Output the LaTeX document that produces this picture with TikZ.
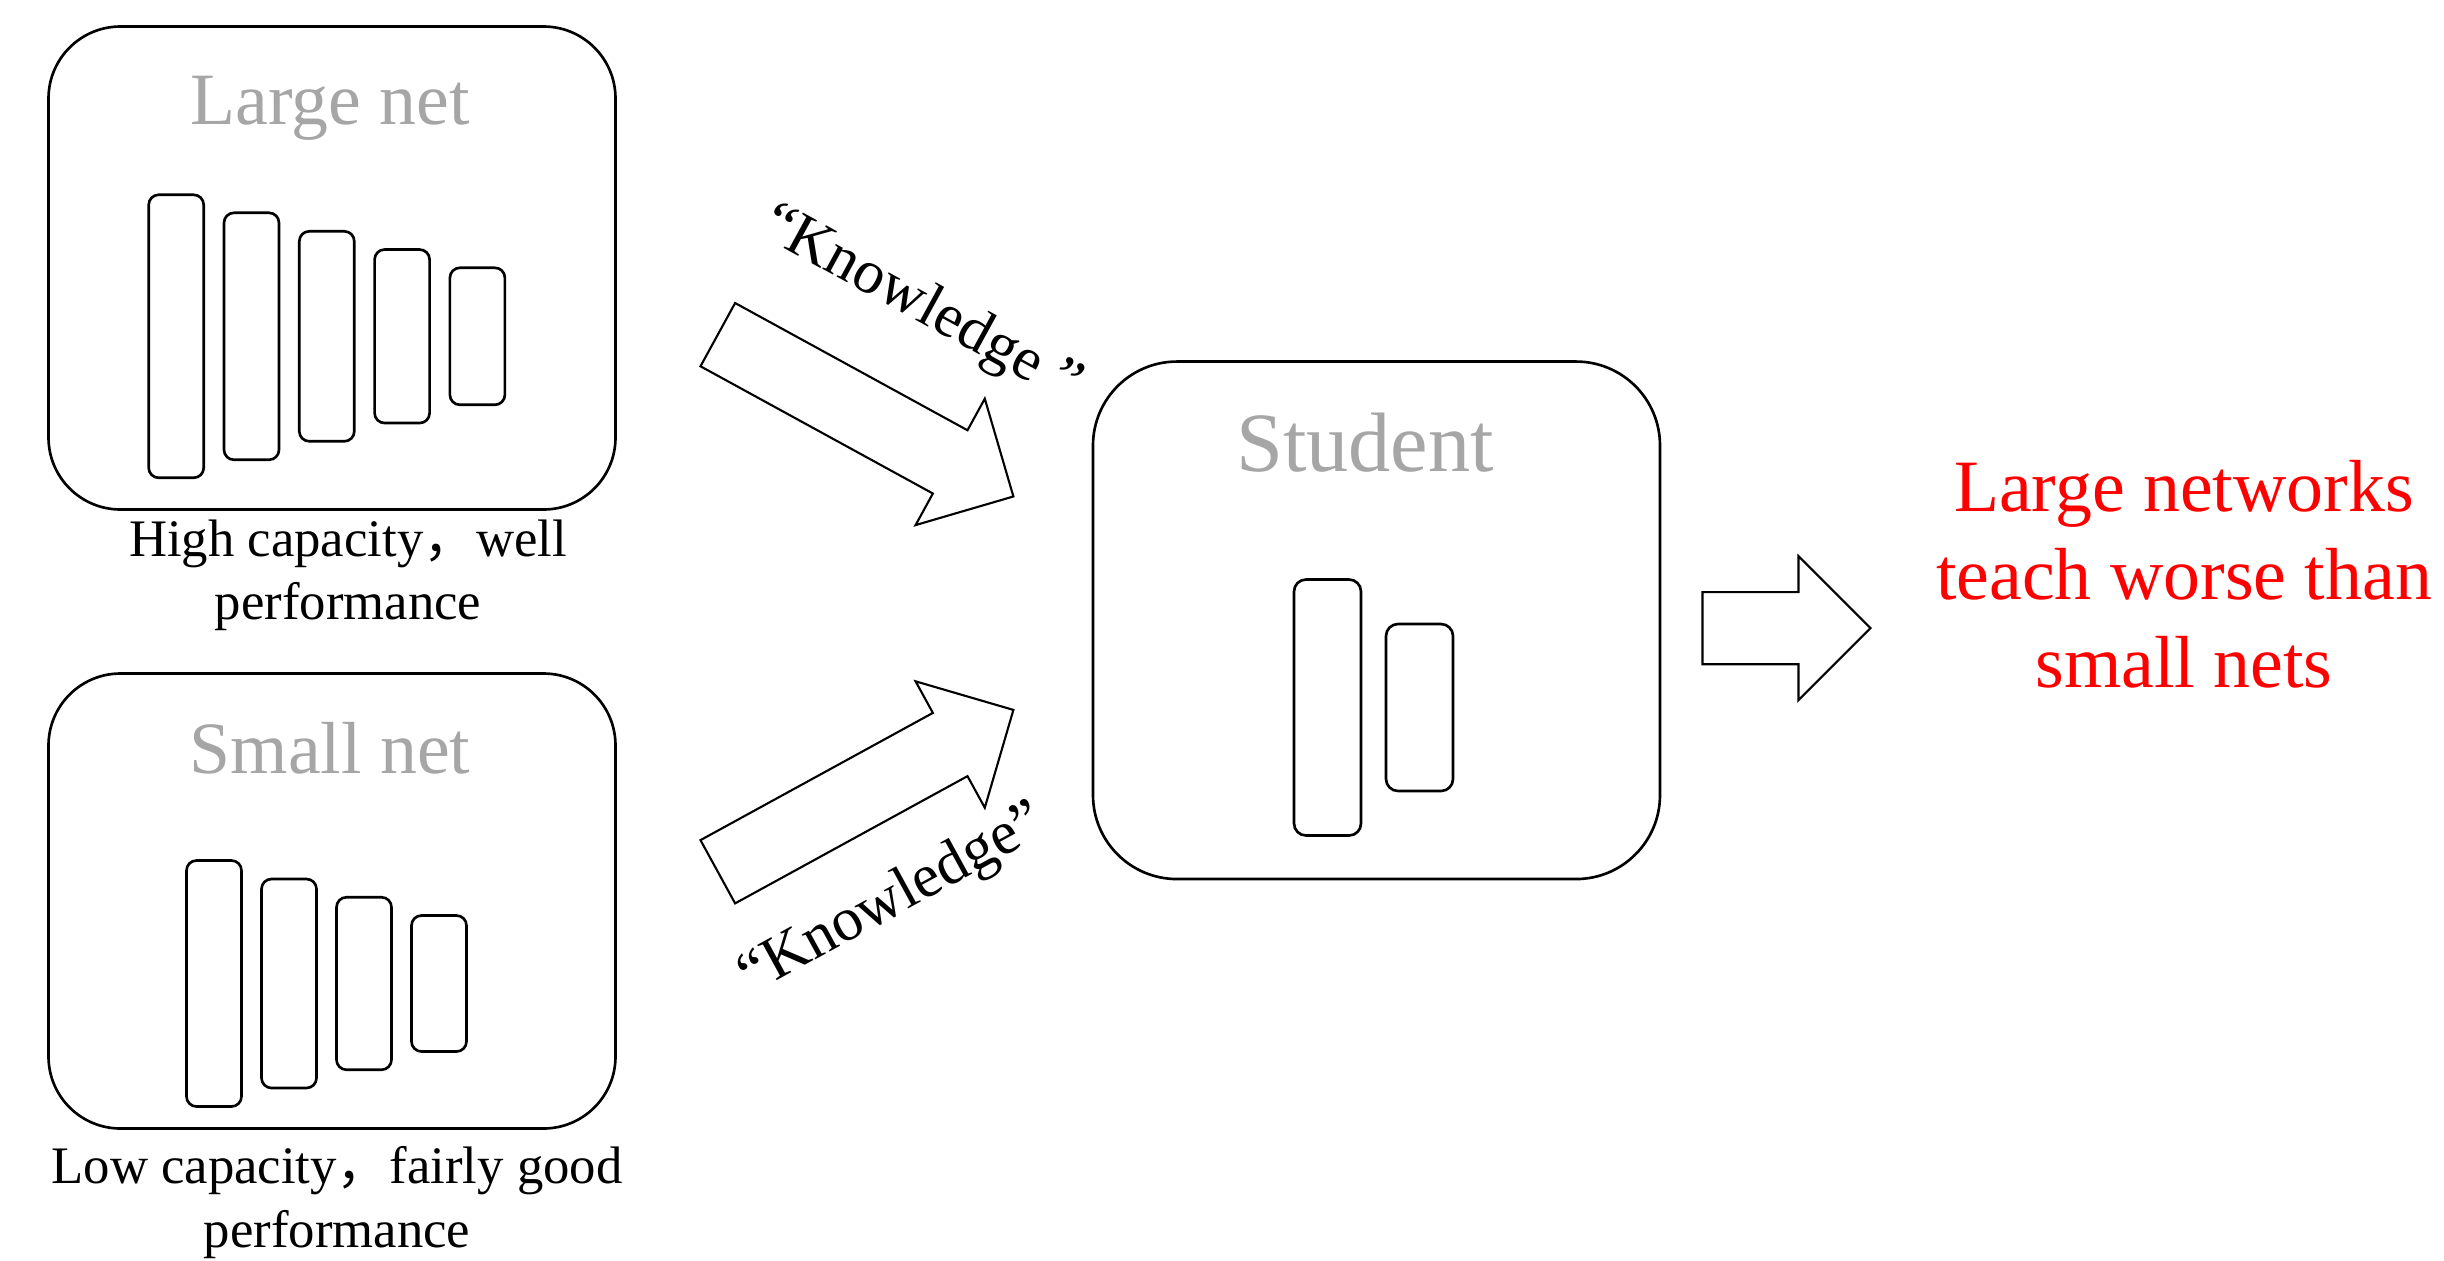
\documentclass[tikz,border=0pt]{standalone}
\usepackage{fontspec}
\setmainfont{Liberation Serif}
\newfontfamily\cjk{Noto Sans CJK SC}
\usepackage{xcolor}
\usetikzlibrary{shapes.arrows}

\definecolor{titlegray}{HTML}{A6A6A6}

\begin{document}
\begin{tikzpicture}[
  netbox/.style={draw=black, line width=0.75pt, rounded corners=0.72cm,
    minimum width=5.67cm, inner sep=0pt},
  layer/.style={draw=black, line width=0.75pt, rounded corners=0.1cm,
    minimum width=0.55cm, inner sep=0pt},
  heading/.style={text=titlegray, font=\fontsize{21}{25}\selectfont,
    anchor=base, inner sep=0pt},
  caption/.style={font=\fontsize{15}{18}\selectfont, align=center,
    anchor=north, inner sep=0pt},
  blockarrow/.style={single arrow, draw=black, line width=0.6pt,
    single arrow tip angle=90, inner xsep=0pt, inner ysep=0.35cm,
    single arrow head extend=0.36cm, anchor=tip},
  knowledge/.style={font=\fontsize{17.5}{21}\selectfont, inner sep=0pt}
]
\useasboundingbox (0,0) rectangle (24.44,12.60);

\node[netbox, minimum height=4.83cm] (large) at (3.32,9.92) {};
\node[heading] (largeTitle) at (3.30,11.36) {Large net};
\foreach \h [count=\i] in {2.83,2.47,2.10,1.735,1.37}
  \node[layer, minimum height=\h cm] (largeL\i)
    at ({1.762+(\i-1)*0.753},9.237) {};
\node[caption] (largeCaption) at (3.48,7.41)
  {High capacity{\cjk ，}well\\performance};

\node[netbox, minimum height=4.55cm] (small) at (3.32,3.59) {};
\node[heading] (smallTitle) at (3.30,4.87) {Small net};
\foreach \h [count=\i] in {2.46,2.09,1.725,1.36}
  \node[layer, minimum height=\h cm] (smallL\i)
    at ({2.14+(\i-1)*0.75},2.765) {};
\node[caption] (smallCaption) at (3.37,1.14)
  {Low capacity{\cjk ，}fairly good\\performance};

\node[netbox, rounded corners=0.84cm, minimum height=5.175cm]
  (student) at (13.765,6.397) {};
\node[heading, font=\fontsize{24}{28}\selectfont] (studentTitle)
  at (13.65,7.89) {Student};
\node[layer, minimum width=0.67cm, minimum height=2.56cm,
  rounded corners=0.12cm] (studentL1) at (13.275,5.525) {};
\node[layer, minimum width=0.67cm, minimum height=1.67cm,
  rounded corners=0.12cm] (studentL2) at (14.195,5.525) {};

\node[blockarrow, minimum height=3.37cm, rotate=-28.7]
  (arrowLarge) at (10.147,7.628) {};
\node[blockarrow, minimum height=3.37cm, rotate=28.7]
  (arrowSmall) at (10.147,5.508) {};
\node[knowledge, rotate=-28.7] (knowLarge) at (9.21,9.54)
  {“Knowledge ”};
\node[knowledge, rotate=28.7] (knowSmall) at (8.93,3.59)
  {“Knowledge”};

\node[blockarrow, minimum height=1.68cm] (arrowOut) at (18.72,6.318) {};
\node[caption, text=red, font=\fontsize{21}{25}\selectfont]
  (result) at (21.84,8.00)
  {Large networks\\teach worse than\\small nets};
\end{tikzpicture}
\end{document}
